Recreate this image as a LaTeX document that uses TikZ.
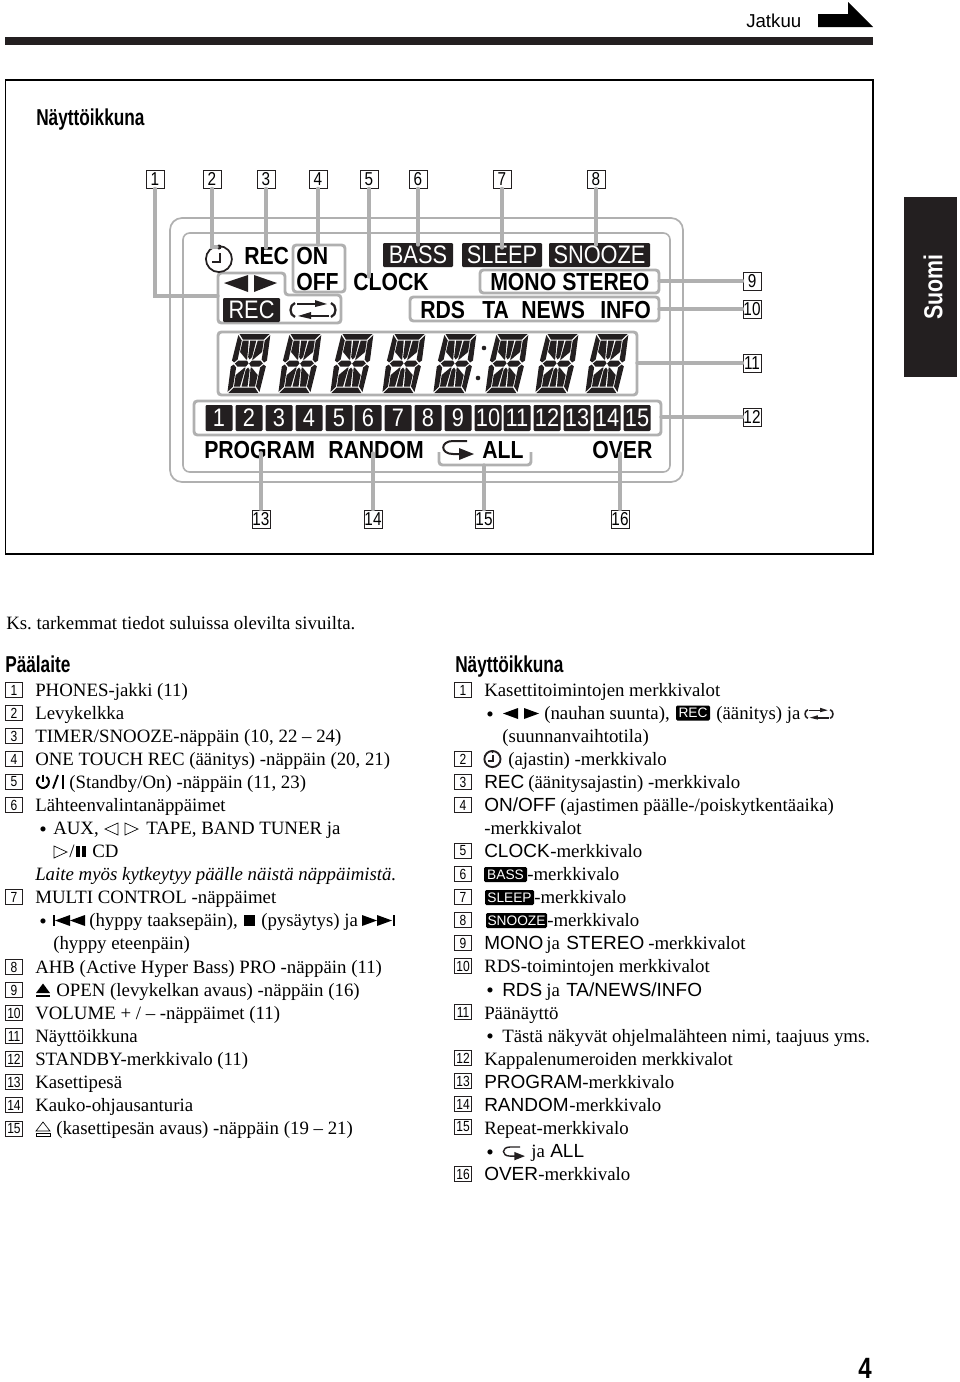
\documentclass[tikz,border=0pt]{standalone}
\usepackage{fontspec}
\setmainfont{Liberation Serif}
\newfontfamily\sansf{Liberation Sans}
\newfontfamily\lcdf[FakeStretch=0.86]{Liberation Sans}
\newfontfamily\numf[FakeStretch=0.82]{Liberation Sans}
\newfontfamily\headf[FakeStretch=0.75]{Liberation Sans}
\definecolor{lcdblack}{HTML}{231F20}
\definecolor{lcdgray}{HTML}{B0B0B0}
\tikzset{
txt/.style={anchor=base west,inner sep=0pt,font=\fontsize{14.13pt}{16pt}\selectfont},
bul/.style={anchor=base west,inner sep=0pt,font=\fontsize{16pt}{18pt}\selectfont},
stxt/.style={anchor=base west,inner sep=0pt,font=\sansf\fontsize{14.25pt}{16pt}\selectfont},
lcd/.style={anchor=base west,inner sep=0pt,font=\lcdf\bfseries\fontsize{18.5pt}{20pt}\selectfont},
head/.style={anchor=base west,inner sep=0pt,font=\headf\bfseries\fontsize{17.25pt}{20pt}\selectfont},
callout/.style={draw=lcdblack,line width=0.6pt,fill=white,inner sep=0pt,minimum width=13.5pt,minimum height=13.5pt,font=\numf\fontsize{14pt}{15pt}\selectfont},
listbox/.style={draw=lcdblack,line width=0.4pt,fill=white,inner sep=0pt,minimum width=12.5pt,minimum height=11.2pt,font=\numf\fontsize{11pt}{12pt}\selectfont},
badge/.style 2 args={fill=lcdblack,text=white,rounded corners=0.8pt,inner sep=0pt,minimum width=#1*0.75pt,minimum height=#2*0.75pt,font=\lcdf\fontsize{19pt}{20pt}\selectfont},
minibadge/.style 2 args={fill=black,text=white,rounded corners=1pt,inner sep=0pt,minimum width=#1*0.75pt,minimum height=#2*0.75pt,font=\sansf\fontsize{10.3pt}{11pt}\selectfont},
frame/.style={draw=lcdgray,line width=2.2pt,rounded corners=2.5pt},
case/.style={draw=lcdgray,line width=1.3pt,rounded corners=9pt},
leader/.style={draw=lcdgray,line width=2.4pt,line cap=round}
}
\newcommand{\segdigit}[1]{
\begin{scope}[shift={(#1,334)},xslant=0.19]
\fill[lcdblack] (2.5,0) -- (32.5,0) -- (28,5.5) -- (7,5.5) -- cycle;
\fill[lcdblack] (7,53.5) -- (28,53.5) -- (32.5,59) -- (2.5,59) -- cycle;
\fill[lcdblack] (1.5,1) -- (6,6.5) -- (5.5,25.5) -- (2.5,28.5) -- (0,26.5) -- cycle;
\fill[lcdblack] (33.5,1) -- (29,6.5) -- (29.5,25.5) -- (32.5,28.5) -- (35,26.5) -- cycle;
\fill[lcdblack] (0,32.5) -- (2.5,30.5) -- (5.5,33.5) -- (6,52.5) -- (1.5,58) -- cycle;
\fill[lcdblack] (35,32.5) -- (32.5,30.5) -- (29.5,33.5) -- (29,52.5) -- (33.5,58) -- cycle;
\fill[lcdblack] (3.5,29.5) -- (6.5,26.5) -- (15,26.5) -- (17.2,29.5) -- (15,32.5) -- (6.5,32.5) -- cycle;
\fill[lcdblack] (31.5,29.5) -- (28.5,26.5) -- (20,26.5) -- (17.8,29.5) -- (20,32.5) -- (28.5,32.5) -- cycle;
\fill[lcdblack] (14.5,6.5) -- (20.5,6.5) -- (19.5,23) -- (17.5,25.5) -- (15.5,23) -- cycle;
\fill[lcdblack] (15.5,36) -- (17.5,33.5) -- (19.5,36) -- (20.5,52.5) -- (14.5,52.5) -- cycle;
\fill[lcdblack] (7,6.5) -- (13,6.5) -- (15,25.5) -- (14,25.5) -- (6.5,18) -- cycle;
\fill[lcdblack] (28,6.5) -- (22,6.5) -- (20,25.5) -- (21,25.5) -- (28.5,18) -- cycle;
\fill[lcdblack] (7,52.5) -- (13,52.5) -- (15,33.5) -- (14,33.5) -- (6.5,41) -- cycle;
\fill[lcdblack] (28,52.5) -- (22,52.5) -- (20,33.5) -- (21,33.5) -- (28.5,41) -- cycle;
\end{scope}
}
\newcommand{\revmode}[3]{
\begin{scope}[shift={(#1,#2)},scale=#3]
\draw[lcdblack,line width=1.4pt*#3+0.3pt] (-16,-6) -- (6,-6);
\draw[lcdblack,line width=1.4pt*#3+0.3pt] (16,6) -- (-6,6);
\fill[lcdblack] (2,-10) -- (14,-6) -- (2,-3) -- cycle;
\fill[lcdblack] (-2,9) -- (-15,6) -- (-2,2) -- cycle;
\draw[lcdblack,line width=1.4pt*#3+0.3pt] (-18,-7) .. controls (-24,-5) and (-24,5) .. (-18,7);
\draw[lcdblack,line width=1.4pt*#3+0.3pt] (18,-7) .. controls (24,-5) and (24,5) .. (18,7);
\end{scope}
}
\newcommand{\clockmark}[4]{
\begin{scope}[shift={(#1,#2)},scale=#3]
\draw[lcdblack,line width=#4] (5,-11.9) arc (-67:-473:13);
\fill[lcdblack] (0,-12) circle (2.5);
\draw[lcdblack,line width=#4] (1,-6) -- (1,3) -- (-7,3);
\end{scope}
}
\newcommand{\repmark}[3]{
\begin{scope}[shift={(#1,#2)},scale=#3]
\draw[lcdblack,line width=1.5pt*#3] (20,0) -- (6,0) .. controls (-7,0) and (-7,13) .. (6,13) -- (14,13);
\fill[lcdblack] (12,7) -- (27,13) -- (12,19) -- cycle;
\end{scope}
}
\begin{document}
\frenchspacing
\begin{tikzpicture}[x=0.75pt,y=-0.75pt]
\useasboundingbox (0,0) rectangle (960,1382);

\node[anchor=base west,inner sep=0pt,font=\sansf\fontsize{14pt}{16pt}\selectfont](jatkuu) at (746,27) {Jatkuu};
\fill[black] (818,14) -- (848,14) -- (848,2) -- (873,27) -- (818,27) -- cycle;
\fill[lcdblack] (5,37) rectangle (873,45);
\draw[black,line width=0.8pt] (5.5,80) rectangle (873,554);
\fill[lcdblack] (904,197) rectangle (957,377);
\node[rotate=90,inner sep=0pt,text=white,font=\numf\bfseries\fontsize{19.5pt}{22pt}\selectfont](suomi) at (933,287) {Suomi};
\node[head](title) at (36,125) {Näyttöikkuna};

\draw[case] (170,482) -- (170,218) -- (683,218) -- (683,482) -- cycle;
\draw[draw=lcdgray,line width=1.2pt,rounded corners=5pt] (183,472) -- (183,233) -- (670,233) -- (670,472) -- cycle;
\draw[frame] (218,273) -- (285,273) -- (285,295) -- (341,295) -- (341,323) -- (218,323) -- cycle;
\draw[frame] (293,245) rectangle (345,292);
\draw[frame] (480,270) rectangle (659,293);
\draw[frame] (410,297) rectangle (659,321);
\draw[frame] (218,332) rectangle (637,395);
\draw[frame] (194,401) rectangle (661,435);
\draw[frame] (439,452) -- (439,465) -- (531,465) -- (531,452);

\clockmark{219}{259}{1}{1.3pt}
\fill[lcdblack] (224,283) -- (248,275) -- (248,292) -- cycle;
\fill[lcdblack] (254,275) -- (277,283) -- (254,292) -- cycle;
\revmode{313}{310}{1}
\repmark{447}{441}{1}

\node[lcd](rec) at (244,264) {REC};
\node[lcd](on) at (296,264) {ON};
\node[lcd](off) at (296,290) {OFF};
\node[lcd](clock) at (353,290) {CLOCK};
\node[lcd](mono) at (490,290) {MONO};
\node[lcd](stereo) at (562,290) {STEREO};
\node[lcd](rds) at (420,318) {RDS};
\node[lcd](ta) at (482,318) {TA};
\node[lcd](news) at (521,318) {NEWS};
\node[lcd](info) at (600,318) {INFO};
\node[lcd](program) at (204,458.5) {PROGRAM};
\node[lcd](random) at (328,458.5) {RANDOM};
\node[lcd](all) at (482,458.5) {ALL};
\node[lcd](over) at (592,458.5) {OVER};

\node[badge={70}{24}](bass) at (418,255) {BASS};
\node[badge={80}{24}](sleep) at (502,255) {SLEEP};
\node[badge={101}{24}](snooze) at (599.5,255) {SNOOZE};
\node[badge={57}{24}](recb) at (251.5,310) {REC};

\node[badge={27}{26}](t1) at (219,418) {1};
\node[badge={27}{26}](t2) at (249,418) {2};
\node[badge={27}{26}](t3) at (279,418) {3};
\node[badge={27}{26}](t4) at (309,418) {4};
\node[badge={27}{26}](t5) at (339,418) {5};
\node[badge={27}{26}](t6) at (368,418) {6};
\node[badge={27}{26}](t7) at (398,418) {7};
\node[badge={27}{26}](t8) at (428,418) {8};
\node[badge={27}{26}](t9) at (458,418) {9};
\node[badge={27}{26}](t10) at (488,418) {10};
\node[badge={27}{26}](t11) at (517,418) {11};
\node[badge={27}{26}](t12) at (547,418) {12};
\node[badge={27}{26}](t13) at (577,418) {13};
\node[badge={27}{26}](t14) at (607,418) {14};
\node[badge={27}{26}](t15) at (637,418) {15};

\segdigit{237}
\segdigit{288}
\segdigit{340}
\segdigit{392}
\segdigit{443}
\segdigit{495}
\segdigit{545}
\segdigit{595}
\fill[lcdblack] (484,348) circle (2.3);
\fill[lcdblack] (478,378) circle (2.3);

\node[callout](1) at (155,179) {1};
\node[callout](2) at (212,179) {2};
\node[callout](3) at (266,179) {3};
\node[callout](4) at (318,179) {4};
\node[callout](5) at (369,179) {5};
\node[callout](6) at (418,179) {6};
\node[callout](7) at (502,179) {7};
\node[callout](8) at (596,179) {8};
\node[callout](9) at (752,281) {9};
\node[callout](10) at (752,309) {10};
\node[callout](11) at (752,363) {11};
\node[callout](12) at (752,417) {12};
\node[callout](13) at (261,519) {13};
\node[callout](14) at (373,519) {14};
\node[callout](15) at (484,519) {15};
\node[callout](16) at (620,519) {16};

\coordinate (k1) at (155,296);
\coordinate (e1) at (218,296);
\coordinate (k2) at (212,247);
\coordinate (e2) at (217,247);
\coordinate (e3) at (266,248);
\coordinate (e4) at (318,245);
\coordinate (e5) at (369,277);
\coordinate (e6) at (418,245);
\coordinate (e7) at (502,248);
\coordinate (e8) at (596,245);
\coordinate (e9) at (659,281);
\coordinate (e10) at (659,309);
\coordinate (e11) at (637,363);
\coordinate (e12) at (661,417);
\coordinate (e13) at (261,453);
\coordinate (e14) at (373,453);
\coordinate (e15) at (484,465);
\coordinate (e16) at (620,453);

\draw[leader] (1) -- (k1) -- (e1);
\draw[leader] (2) -- (k2) -- (e2);
\draw[leader] (3) -- (e3);
\draw[leader] (4) -- (e4);
\draw[leader] (5) -- (e5);
\draw[leader] (6) -- (e6);
\draw[leader] (7) -- (e7);
\draw[leader] (8) -- (e8);
\draw[leader] (9) -- (e9);
\draw[leader] (10) -- (e10);
\draw[leader] (11) -- (e11);
\draw[leader] (12) -- (e12);
\draw[leader] (13) -- (e13);
\draw[leader] (14) -- (e14);
\draw[leader] (15) -- (e15);
\draw[leader] (16) -- (e16);

\node[txt](note) at (6,629) {Ks. tarkemmat tiedot suluissa olevilta sivuilta.};

\node[head](phead) at (5,672) {Päälaite};
\node[listbox](p1) at (14,690) {1};
\node[listbox](p2) at (14,713) {2};
\node[listbox](p3) at (14,736) {3};
\node[listbox](p4) at (14,759) {4};
\node[listbox](p5) at (14,782) {5};
\node[listbox](p6) at (14,805) {6};
\node[listbox](p7) at (14,897) {7};
\node[listbox](p8) at (14,967) {8};
\node[listbox](p9) at (14,990) {9};
\node[listbox](p10) at (14,1013) {10};
\node[listbox](p11) at (14,1036) {11};
\node[listbox](p12) at (14,1059) {12};
\node[listbox](p13) at (14,1082) {13};
\node[listbox](p14) at (14,1105) {14};
\node[listbox](p15) at (14,1128.5) {15};

\node[txt](l1) at (35,696) {PHONES-jakki (11)};
\node[txt](l2) at (35,719) {Levykelkka};
\node[txt](l3) at (35,742) {TIMER/SNOOZE-näppäin (10, 22 – 24)};
\node[txt](l4) at (35,765) {ONE TOUCH REC (äänitys) -näppäin (20, 21)};
\draw[black,line width=1.5pt] (39.5,777) arc (-125:-415:6);
\draw[black,line width=1.5pt] (43,774.5) -- (43,782);
\draw[black,line width=1.4pt] (53,788.5) -- (58,775);
\fill[black] (62,775) rectangle (64,788.5);
\node[txt](l5) at (69,788) {(Standby/On) -näppäin (11, 23)};
\node[txt](l6) at (35,811) {Lähteenvalintanäppäimet};
\node[bul](b6) at (39,836) {•};
\node[txt](l7) at (53,834) {AUX,};
\draw[black,line width=0.5pt] (118,823) -- (105,829) -- (118,835) -- cycle;
\draw[black,line width=0.5pt] (125,823) -- (138,829) -- (125,835) -- cycle;
\node[txt](l8) at (146,834) {TAPE, BAND TUNER ja};
\draw[black,line width=0.5pt] (54,846) -- (67,852) -- (54,858) -- cycle;
\node[txt](l9) at (69,857) {/};
\fill[black] (76,846) rectangle (80,857);
\fill[black] (82,846) rectangle (86,857);
\node[txt](l10) at (92,857) {CD};
\node[txt,font=\itshape\fontsize{14.13pt}{16pt}\selectfont](l11) at (35,880) {Laite myös kytkeytyy päälle näistä näppäimistä.};
\node[txt](l12) at (35,903) {MULTI CONTROL -näppäimet};
\node[bul](b12) at (39,928) {•};
\fill[black] (53,915) rectangle (54.5,926);
\fill[black] (70,915) -- (70,926) -- (55,920.5) -- cycle;
\fill[black] (85,915) -- (85,926) -- (70,920.5) -- cycle;
\node[txt](l13) at (89,926) {(hyppy taaksepäin),};
\fill[black] (244,915) rectangle (255,926);
\node[txt](l14) at (261,926) {(pysäytys) ja};
\fill[black] (362,915) -- (362,926) -- (377,920.5) -- cycle;
\fill[black] (377,915) -- (377,926) -- (392,920.5) -- cycle;
\fill[black] (393,915) rectangle (394.5,926);
\node[txt](l15) at (53,949) {(hyppy eteenpäin)};
\node[txt](l16) at (35,973) {AHB (Active Hyper Bass) PRO -näppäin (11)};
\fill[black] (36,993) -- (50,993) -- (43,983.5) -- cycle;
\fill[black] (36,994.5) rectangle (50,997);
\node[txt](l17) at (56,996) {OPEN (levykelkan avaus) -näppäin (16)};
\node[txt](l18) at (35,1019) {VOLUME + / – -näppäimet (11)};
\node[txt](l19) at (35,1042) {Näyttöikkuna};
\node[txt](l20) at (35,1065) {STANDBY-merkkivalo (11)};
\node[txt](l21) at (35,1088) {Kasettipesä};
\node[txt](l22) at (35,1111) {Kauko-ohjausanturia};
\draw[black,line width=0.5pt] (36,1131) -- (50,1131) -- (43,1122) -- cycle;
\draw[black,line width=0.5pt] (36,1133) rectangle (50,1136);
\node[txt](l23) at (56,1134.5) {(kasettipesän avaus) -näppäin (19 – 21)};

\node[head](nhead) at (455,672) {Näyttöikkuna};
\node[listbox](n1) at (463,690) {1};
\node[listbox](n2) at (463,759) {2};
\node[listbox](n3) at (463,782) {3};
\node[listbox](n4) at (463,805) {4};
\node[listbox](n5) at (463,851) {5};
\node[listbox](n6) at (463,874) {6};
\node[listbox](n7) at (463,897) {7};
\node[listbox](n8) at (463,920) {8};
\node[listbox](n9) at (463,943) {9};
\node[listbox](n10) at (463,966) {10};
\node[listbox](n11) at (463,1012) {11};
\node[listbox](n12) at (463,1058) {12};
\node[listbox](n13) at (463,1081) {13};
\node[listbox](n14) at (463,1104) {14};
\node[listbox](n15) at (463,1127) {15};
\node[listbox](n16) at (463,1174) {16};

\node[txt](r1) at (484,696) {Kasettitoimintojen merkkivalot};
\node[bul](b1) at (486,721) {•};
\fill[black] (503,713.5) -- (518,708) -- (518,719) -- cycle;
\fill[black] (524,708) -- (539,713.5) -- (524,719) -- cycle;
\node[txt](r2) at (544,719) {(nauhan suunta),};
\node[minibadge={34}{15}](mrec) at (693,713) {REC};
\node[txt](r3) at (716,719) {(äänitys) ja};
\revmode{819}{714}{0.62}
\node[txt](r4) at (502,742) {(suunnanvaihtotila)};
\clockmark{492.5}{759}{0.62}{1.4pt}
\node[txt](r5) at (508,765) {(ajastin) -merkkivalo};
\node[stxt](r6) at (484,788) {REC};
\node[txt](r7) at (528,788) {(äänitysajastin) -merkkivalo};
\node[stxt](r8) at (484,811) {ON/OFF};
\node[txt](r9) at (560,811) {(ajastimen päälle-/poiskytkentäaika)};
\node[txt](r10) at (484,834) {-merkkivalot};
\node[stxt](r11) at (484,857) {CLOCK};
\node[txt](r12) at (550,857) {-merkkivalo};
\node[minibadge={43}{15}](mbass) at (505.5,874.5) {BASS};
\node[txt](r13) at (527,880) {-merkkivalo};
\node[minibadge={49}{15}](msleep) at (509.5,897.5) {SLEEP};
\node[txt](r14) at (534,903) {-merkkivalo};
\node[minibadge={61}{15}](msnooze) at (516.5,920.5) {SNOOZE};
\node[txt](r15) at (547,926) {-merkkivalo};
\node[stxt](r16) at (484,949) {MONO};
\node[txt](r17) at (546,949) {ja};
\node[stxt](r18) at (566,949) {STEREO};
\node[txt](r19) at (648,949) {-merkkivalot};
\node[txt](r20) at (484,972) {RDS-toimintojen merkkivalot};
\node[bul](b20) at (486,997) {•};
\node[stxt](r21) at (502,996) {RDS};
\node[txt](r22) at (546,996) {ja};
\node[stxt](r23) at (566,996) {TA/NEWS/INFO};
\node[txt](r24) at (484,1019) {Päänäyttö};
\node[bul](b24) at (486,1043) {•};
\node[txt](r25) at (502,1042) {Tästä näkyvät ohjelmalähteen nimi, taajuus yms.};
\node[txt](r26) at (484,1065) {Kappalenumeroiden merkkivalot};
\node[stxt](r27) at (484,1088) {PROGRAM};
\node[txt](r28) at (582,1088) {-merkkivalo};
\node[stxt](r29) at (484,1111) {RANDOM};
\node[txt](r30) at (569,1111) {-merkkivalo};
\node[txt](r31) at (484,1134) {Repeat-merkkivalo};
\node[bul](b31) at (486,1159) {•};
\repmark{506}{1147}{0.7}
\node[txt](r32) at (531,1157) {ja};
\node[stxt](r33) at (550,1157) {ALL};
\node[stxt](r34) at (484,1180) {OVER};
\node[txt](r35) at (538,1180) {-merkkivalo};

\node[anchor=base west,inner sep=0pt,font=\numf\bfseries\fontsize{22pt}{24pt}\selectfont](page) at (858,1378.5) {4};
\end{tikzpicture}
\end{document}
